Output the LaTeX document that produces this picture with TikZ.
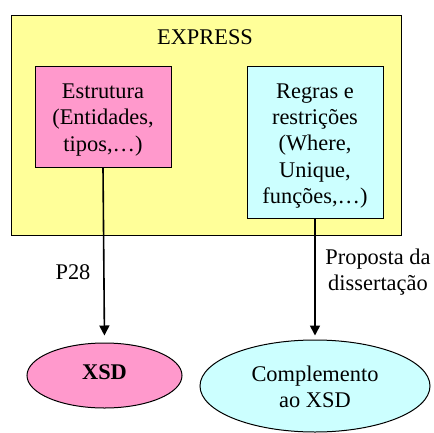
\documentclass[tikz,border=0pt]{standalone}
\usepackage{fontspec}
\setmainfont{Liberation Serif}
\usetikzlibrary{arrows.meta,shapes.geometric}
\definecolor{bgyellow}{HTML}{FFFF99}
\definecolor{boxpink}{HTML}{FF99CC}
\definecolor{boxcyan}{HTML}{CCFFFF}
\tikzset{
  txt/.style={font=\fontsize{22.4}{26.3}\selectfont, align=center, inner sep=0pt},
  box/.style={draw=black, line width=1pt, rectangle, inner sep=0pt},
  oval/.style={draw=black, line width=1pt, ellipse, inner sep=0pt},
  arr/.style={line width=1.6pt, -{Triangle[length=10pt,width=10pt]}},
}
\begin{document}
\begin{tikzpicture}[x=1pt,y=-1pt]
\useasboundingbox (0,0) rectangle (434,432);
\node[box, fill=bgyellow, minimum width=390pt, minimum height=220pt] (express) at (206,125) {};
\node[txt] (title) at (205,37) {EXPRESS};
\node[box, fill=boxpink, minimum width=136pt, minimum height=101pt] (estr) at (103,116.5) {};
\node[txt] (estrt) at (103,120) {Estrutura\\(Entidades,\\tipos,\ldots)};
\node[box, fill=boxcyan, minimum width=136pt, minimum height=152pt] (regras) at (315,142) {};
\node[txt] (regrast) at (315,146) {Regras e\\restrições\\(Where,\\Unique,\\funções,\ldots)};
\node[oval, fill=boxpink, minimum width=155pt, minimum height=65pt] (xsd) at (104.5,375.5) {};
\node[txt, font=\fontsize{22.4}{26.3}\selectfont\bfseries] (xsdt) at (104.5,372) {XSD};
\node[oval, fill=boxcyan, minimum width=230pt, minimum height=92pt] (comp) at (315,386) {};
\node[txt] (compt) at (315,387) {Complemento\\ao XSD};
\node[txt] (p28) at (73,272) {P28};
\node[txt] (prop) at (378,272) {Proposta da\\dissertação};
\draw[arr, shorten >=7pt] (estr.south) -- (xsd.north);
\draw[arr, shorten >=4pt] (regras.south) -- (comp.north);
\end{tikzpicture}
\end{document}
